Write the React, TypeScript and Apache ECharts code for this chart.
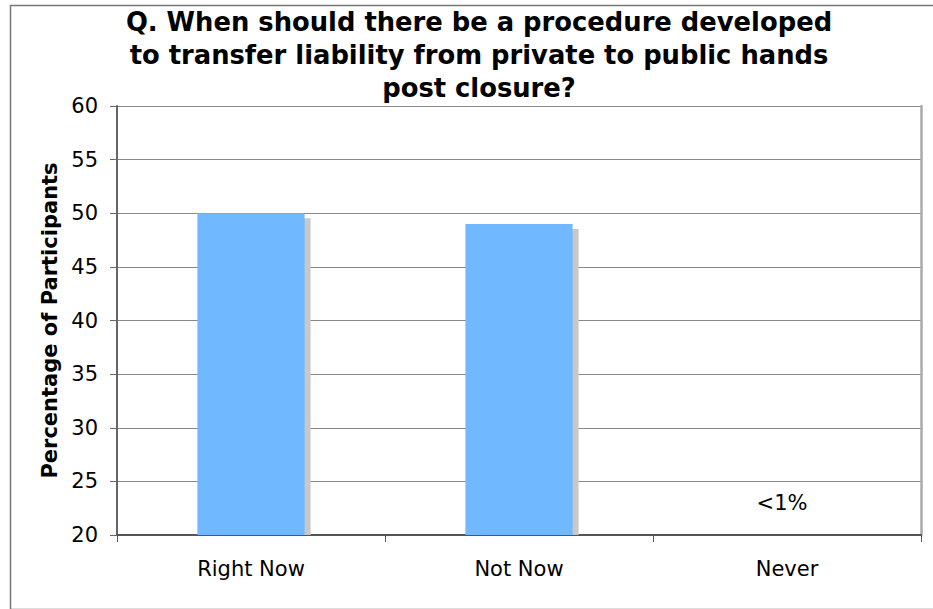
import React, { useEffect, useRef } from "react";
import * as echarts from "echarts";

const titleLines = [
  "Q. When should there be a procedure developed",
  "to transfer liability from private to public hands",
  "post closure?",
];
const categories = ["Right Now", "Not Now", "Never"];
const values = [50, 49, 0.5];
const neverNote = "<1%";
const yMin = 20;
const yMax = 60;
const yStep = 5;
const yName = "Percentage of Participants";

const FONT = "DejaVu Sans, Verdana, sans-serif";
const BAR_COLOR = "#70B8FF";
const SHADOW_COLOR = "#C8C8C8";

export default function App() {
  const ref = useRef<HTMLDivElement>(null);

  useEffect(() => {
    if (!ref.current) return;
    const chart = echarts.init(ref.current, undefined, { renderer: "svg" });

    // Bars with a flat drop shadow that stops at the category axis.
    const renderBar = (params: any, api: any) => {
      const idx = api.value(0);
      const val = api.value(1);
      if (val <= yMin) return null;
      const top = api.coord([idx, val]);
      const base = api.coord([idx, yMin]);
      const w = api.size([1, 0])[0] * 0.4;
      const x = top[0] - w / 2;
      const h = base[1] - top[1];
      return {
        type: "group",
        children: [
          {
            type: "rect",
            shape: { x: x + 6, y: top[1] + 5, width: w, height: h - 5 },
            style: { fill: SHADOW_COLOR },
          },
          {
            type: "rect",
            shape: { x, y: top[1], width: w, height: h },
            style: { fill: BAR_COLOR },
          },
        ],
      };
    };

    chart.setOption({
      animation: false,
      backgroundColor: "#ffffff",
      title: {
        text: titleLines.join("\n"),
        left: 474,
        top: 0,
        textAlign: "center",
        textStyle: {
          fontFamily: FONT,
          fontWeight: "bold",
          fontSize: 25.8,
          lineHeight: 33,
          color: "#000",
        },
      },
      graphic: [
        {
          type: "rect",
          left: 8,
          top: 3,
          shape: { width: 960, height: 604 },
          style: { fill: "none", stroke: "#777", lineWidth: 1.5 },
          silent: true,
          z: 0,
        },
      ],
      grid: { left: 117, top: 106, right: 12, bottom: 74, containLabel: false },
      xAxis: {
        type: "category",
        data: categories,
        boundaryGap: true,
        axisLine: { show: true, lineStyle: { color: "#555", width: 2 } },
        axisTick: { show: true, length: 7, lineStyle: { color: "#555" } },
        axisLabel: {
          margin: 23,
          fontFamily: FONT,
          fontSize: 21,
          color: "#000",
        },
      },
      yAxis: [
        {
          type: "value",
          min: yMin,
          max: yMax,
          interval: yStep,
          name: yName,
          nameLocation: "middle",
          nameGap: 57,
          nameTextStyle: {
            fontFamily: FONT,
            fontWeight: "bold",
            fontSize: 21,
            color: "#000",
          },
          axisLine: { show: true, lineStyle: { color: "#666", width: 2 } },
          axisTick: { show: true, length: 7, lineStyle: { color: "#666" } },
          axisLabel: {
            margin: 19,
            fontFamily: FONT,
            fontSize: 21,
            color: "#000",
          },
          splitLine: { show: true, lineStyle: { color: "#888", width: 1 } },
        },
        {
          type: "value",
          position: "right",
          min: yMin,
          max: yMax,
          interval: yStep,
          axisLine: { show: true, lineStyle: { color: "#aaa", width: 2.5 } },
          axisTick: { show: false },
          axisLabel: { show: false },
          splitLine: { show: false },
        },
      ],
      series: [
        {
          type: "custom",
          renderItem: renderBar,
          encode: { x: 0, y: 1 },
          data: values.map((v, i) => [i, v]),
          markPoint: {
            symbol: "rect",
            symbolSize: 0,
            data: [
              {
                coord: [2, 23],
                label: {
                  show: true,
                  formatter: neverNote,
                  position: "inside",
                  offset: [-5, 0],
                  fontFamily: FONT,
                  fontSize: 21,
                  color: "#000",
                },
              },
            ],
          },
        },
      ],
    });
    return () => chart.dispose();
  }, []);

  return (
    <div
      ref={ref}
      style={{ position: "fixed", left: 0, top: 0, width: 933, height: 609 }}
    />
  );
}
